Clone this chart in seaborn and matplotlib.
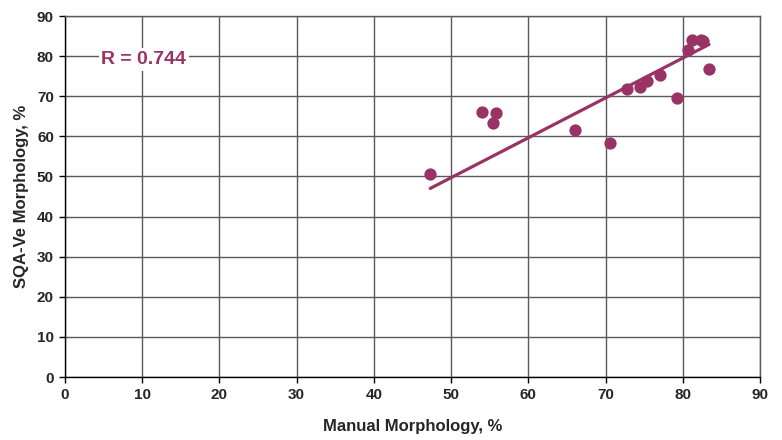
import numpy as np
import matplotlib
matplotlib.use("Agg")
import matplotlib.pyplot as plt
import seaborn as sns

# values
manual = [47.3, 54.0, 55.8, 55.4, 66.1, 70.6, 72.8, 74.5, 75.4, 77.1,
          79.2, 80.7, 81.2, 82.3, 82.6, 83.4]
sqa = [50.7, 66.1, 65.8, 63.3, 61.7, 58.3, 71.7, 72.3, 73.7, 75.2,
       69.6, 81.5, 84.1, 84.1, 83.7, 76.8]
# trend line as drawn in the reference (slope, intercept)
trend_slope = 0.994
trend_intercept = 0.0
ticks = list(range(0, 91, 10))
r_label = "R = 0.744"

plum = "#993366"

sns.set_theme(style="white")
plt.rcParams["font.family"] = ["Liberation Sans Narrow", "Liberation Sans", "DejaVu Sans"]

fig = plt.figure(figsize=(7.82, 4.40), dpi=100)
ax = fig.add_axes([65 / 782, 63 / 440, 695 / 782, 361 / 440])

xs = np.array([min(manual), max(manual)])
sns.lineplot(x=xs, y=trend_slope * xs + trend_intercept, ax=ax,
             color=plum, lw=2.3, zorder=2)
sns.scatterplot(x=manual, y=sqa, ax=ax, color=plum, s=78,
                linewidth=0, zorder=3)

ax.set_xlim(0, 90)
ax.set_ylim(0, 90)
ax.set_xticks(ticks)
ax.set_yticks(ticks)
ax.set_xticklabels(ticks, fontsize=11, fontweight="bold")
ax.set_yticklabels(ticks, fontsize=11, fontweight="bold")
ax.grid(True, color="#5a5a5a", lw=1)
ax.set_axisbelow(True)
for s in ax.spines.values():
    s.set_color("#5a5a5a")
    s.set_linewidth(1)
ax.spines["left"].set_color("black")
ax.spines["bottom"].set_color("black")
ax.tick_params(axis="both", which="both", direction="out", length=4, width=1,
               color="black", left=True, bottom=True, pad=4)

ax.set_xlabel("Manual Morphology, %", fontsize=12, fontweight="bold", labelpad=12)
ax.set_ylabel("SQA-Ve Morphology, %", fontsize=12, fontweight="bold", labelpad=6)

ax.text(10.2, 79.1, r_label, color=plum, fontsize=14, fontweight="bold",
        ha="center", va="center",
        bbox=dict(facecolor="white", edgecolor="none", pad=2))

fig.savefig("out.png", dpi=100)
